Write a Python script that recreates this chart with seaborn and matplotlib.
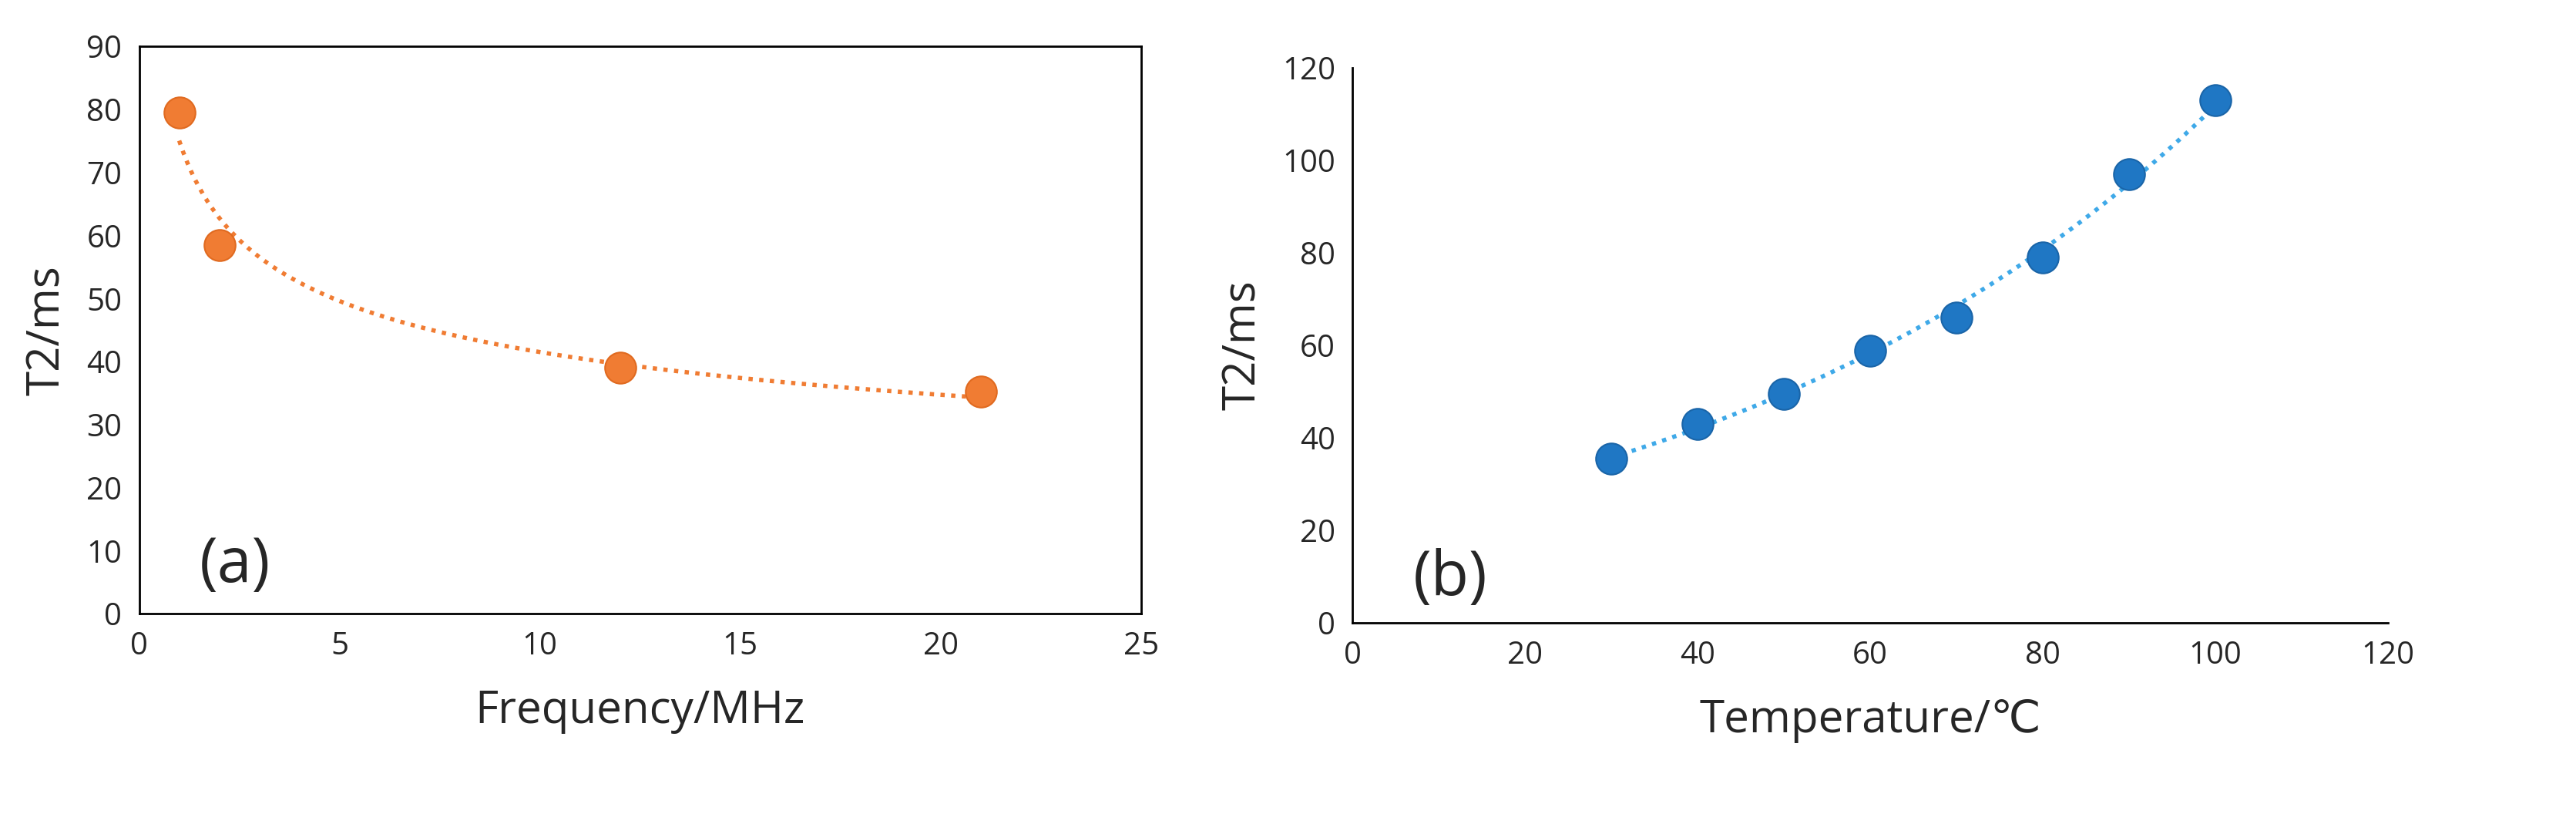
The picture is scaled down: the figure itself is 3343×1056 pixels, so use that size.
import numpy as np
import pandas as pd
import matplotlib
matplotlib.use('Agg')
import matplotlib.pyplot as plt
import seaborn as sns

# ── Data ──
freq_mhz = [1, 2, 12, 21]
t2_freq  = [79.5, 58.5, 39.0, 35.3]

temp_c   = [30, 40, 50, 60, 70, 80, 90, 100]
t2_temp  = [35.5, 43.0, 49.5, 58.8, 66.0, 79.0, 97.0, 113.0]

ORANGE = '#f07c33'
BLUE   = '#1f77c4'
LBLUE  = '#3fa9e8'

sns.set_style('white')
plt.rcParams['font.family'] = ['Open Sans', 'DejaVu Sans']

fig = plt.figure(figsize=(33.43, 10.56), dpi=100)
ax1 = fig.add_axes([0.054, 0.246, 0.389, 0.697])
ax2 = fig.add_axes([0.525, 0.235, 0.402, 0.682])

# ── (a) power-law trendline ──
df_a = pd.DataFrame({'f': freq_mhz, 't2': t2_freq})
k, c = np.polyfit(np.log(df_a['f']), np.log(df_a['t2']), 1)
xf = np.linspace(min(freq_mhz), max(freq_mhz), 200)
ax1.plot(xf, np.exp(c) * xf ** k, ls=(0, (1, 1.5)), color=ORANGE, lw=4)
sns.scatterplot(data=df_a, x='f', y='t2', ax=ax1, color=ORANGE, s=850,
                edgecolor='#e06a20', linewidth=1.5, zorder=3)
ax1.set_xlim(0, 25); ax1.set_ylim(0, 90)
ax1.set_xticks(range(0, 26, 5)); ax1.set_yticks(range(0, 91, 10))
ax1.set_xlabel('Frequency/MHz', fontsize=42, labelpad=25)
ax1.set_ylabel('T2/ms', fontsize=42, labelpad=15)
ax1.text(1.5, 5, '(a)', fontsize=58)
for s in ax1.spines.values():
    s.set_color('black'); s.set_linewidth(2)

# ── (b) exponential trendline ──
df_b = pd.DataFrame({'T': temp_c, 't2': t2_temp})
k2, c2 = np.polyfit(df_b['T'], np.log(df_b['t2']), 1)
xt = np.linspace(min(temp_c), max(temp_c), 200)
ax2.plot(xt, np.exp(c2 + k2 * xt), ls=(0, (1, 1.5)), color=LBLUE, lw=4)
sns.scatterplot(data=df_b, x='T', y='t2', ax=ax2, color=BLUE, s=850,
                edgecolor='#1a65a8', linewidth=1.5, zorder=3)
ax2.set_xlim(0, 120); ax2.set_ylim(0, 120)
ax2.set_xticks(range(0, 121, 20)); ax2.set_yticks(range(0, 121, 20))
ax2.set_xlabel('Temperature/\u2103', fontsize=42, labelpad=25)
ax2.set_ylabel('T2/ms', fontsize=42, labelpad=15)
ax2.text(7, 6, '(b)', fontsize=58)
for side in ['top', 'right']:
    ax2.spines[side].set_visible(False)
for side in ['left', 'bottom']:
    ax2.spines[side].set_color('black'); ax2.spines[side].set_linewidth(2)

for ax in (ax1, ax2):
    ax.tick_params(labelsize=29, length=0, pad=16)

fig.savefig('out.png', dpi=100)
